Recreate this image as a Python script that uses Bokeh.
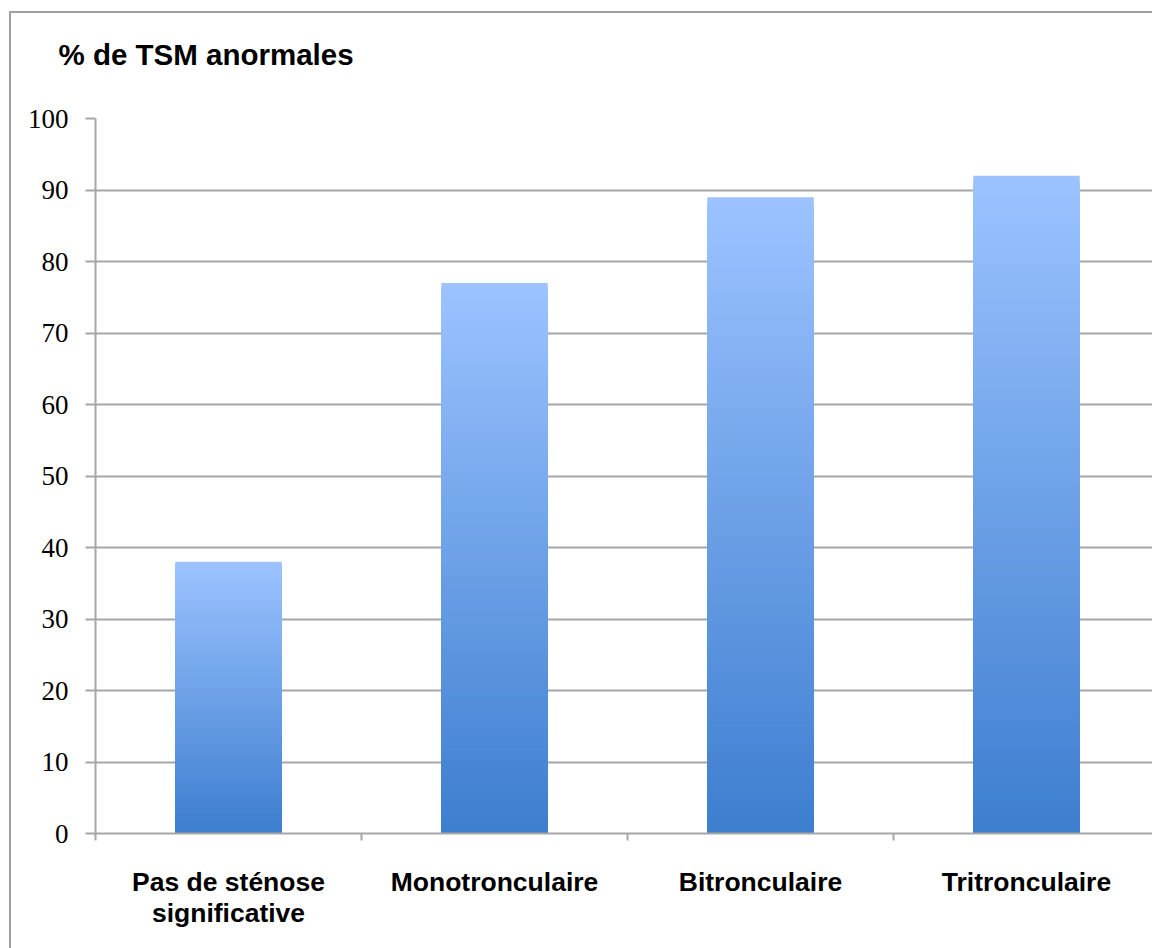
from bokeh.plotting import figure
from bokeh.models import FixedTicker, Range1d
from bokeh.embed import file_html
from bokeh.resources import INLINE

# ---- data ----
categories = ["Pas de sténose\nsignificative", "Monotronculaire", "Bitronculaire", "Tritronculaire"]
values = [38, 77, 89, 92]
y_ticks = [0, 10, 20, 30, 40, 50, 60, 70, 80, 90, 100]
title_text = "% de TSM anormales"

# ---- style ----
GRID = "#a6a6a6"
DARK = (0x3d, 0x7e, 0xcf)
LIGHT = (0x9c, 0xc3, 0xff)
W, H = 1152, 948
LEFT, TOP, BOTTOM = 95, 118, 115
frame_w = W - LEFT
cat_px = 266.0

bg = ("linear-gradient(#a0a0a0,#a0a0a0) 9px 11px / 2px 100% no-repeat, "
      "linear-gradient(#a0a0a0,#a0a0a0) 9px 11px / 100% 2px no-repeat, white")

p = figure(width=W, height=H, output_backend="svg", toolbar_location=None,
           x_range=Range1d(0, frame_w / cat_px), y_range=Range1d(0, 100),
           min_border_left=LEFT, min_border_top=TOP, min_border_bottom=BOTTOM,
           min_border_right=0, styles={"background": bg})
p.outline_line_color = None
p.background_fill_color = "white"
p.border_fill_alpha = 0.0

# gradient bars: nested bars drawn tallest (lightest) first, shorter (darker) on top
N = 120
xs, tops, cols = [], [], []
for k in range(N):
    frac = (N - k) / N
    t = (N - k - 0.5) / N
    c = tuple(int(round(DARK[j] + (LIGHT[j] - DARK[j]) * t)) for j in range(3))
    for i, v in enumerate(values):
        xs.append(i + 0.5)
        tops.append(v * frac)
        cols.append("#%02x%02x%02x" % c)
p.vbar(x=xs, bottom=0, top=tops, width=0.4, fill_color=cols, line_color=None)

# grid
p.xgrid.visible = False
p.ygrid.ticker = FixedTicker(ticks=y_ticks)
p.ygrid.grid_line_color = GRID
p.ygrid.grid_line_width = 2

# x axis
xa = p.xaxis[0]
xa.ticker = FixedTicker(ticks=[i + 0.5 for i in range(len(categories))],
                        minor_ticks=list(range(len(categories) + 1)))
xa.major_label_overrides = {i + 0.5: c for i, c in enumerate(categories)}
xa.major_tick_in = 0
xa.major_tick_out = 0
xa.minor_tick_in = 0
xa.minor_tick_out = 7
xa.minor_tick_line_color = GRID
xa.minor_tick_line_width = 2
xa.axis_line_color = GRID
xa.axis_line_width = 2
xa.major_label_standoff = 26
xa.major_label_text_font = "Liberation Sans"
xa.major_label_text_font_style = "bold"
xa.major_label_text_font_size = "26.5px"
xa.major_label_text_color = "black"
xa.major_label_text_line_height = 1.05

# y axis
ya = p.yaxis[0]
ya.ticker = FixedTicker(ticks=y_ticks, minor_ticks=[])
ya.major_tick_in = 0
ya.major_tick_out = 10
ya.major_tick_line_color = GRID
ya.major_tick_line_width = 2
ya.axis_line_color = GRID
ya.axis_line_width = 2
ya.major_label_standoff = 17
ya.major_label_text_font = "Liberation Serif"
ya.major_label_text_font_size = "27px"
ya.major_label_text_color = "black"

# title (trailing empty line lifts the text above the frame)
p.title.text = title_text + "\n"
p.title.align = "left"
p.title.offset = -37
p.title.standoff = 29
p.title.text_font = "Liberation Sans"
p.title.text_font_style = "bold"
p.title.text_font_size = "29.5px"
p.title.text_color = "black"

open("out.html", "w").write(file_html(p, INLINE))
